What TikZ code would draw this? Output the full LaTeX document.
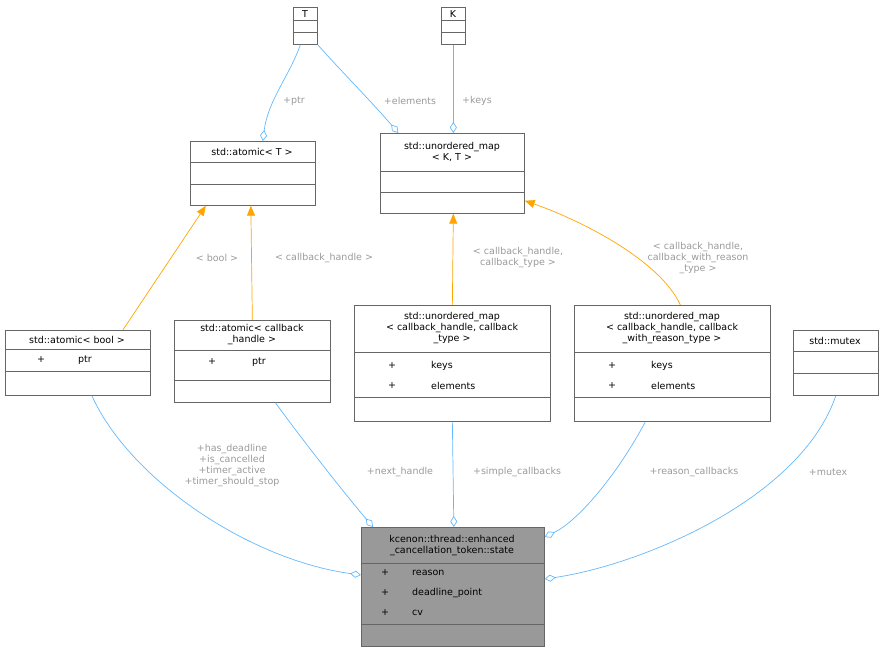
\documentclass[tikz,border=0pt]{standalone}
\usepackage{fontspec}
\setmainfont{DejaVu Sans}
\usetikzlibrary{arrows.meta}
\definecolor{edgeblue}{HTML}{63B8FF}
\definecolor{edgeorange}{HTML}{FFA500}
\definecolor{lblgray}{HTML}{9A9A9A}
\definecolor{boxline}{HTML}{666666}
\tikzset{
 box/.style={draw=boxline,fill=white,line width=0.7pt,inner sep=0pt,anchor=north west},
 ttl/.style={font=\fontsize{9.5}{11}\selectfont,align=center,inner sep=0pt},
 mem/.style={font=\fontsize{9.5}{11}\selectfont,anchor=west,inner sep=0pt},
 lbl/.style={font=\fontsize{9.5}{11}\selectfont,text=lblgray,align=center,inner sep=1pt},
 uses/.style={draw=edgeblue,line width=0.7pt,-{Diamond[open,length=11pt,width=7pt]}},
 tmpl/.style={draw=edgeorange,line width=0.7pt,-{Triangle[length=10pt,width=8pt]}},
}
\newcommand{\umlbox}[5]{% name, x1, y1, x2, y2
 \node[box,minimum width=#4pt-#2pt,minimum height=#5pt-#3pt] (#1) at (#2,#3) {};}
\begin{document}
\begin{tikzpicture}[x=1pt,y=-1pt]
 \useasboundingbox (0,0) rectangle (884,652);
 % template parameters
 \umlbox{tparam}{293}{7}{317}{44}
 \node[ttl] at (305,14) {T};
 \draw[boxline] (293,20) -- (317,20) (293,32) -- (317,32);
 \umlbox{kparam}{441}{7}{465}{44}
 \node[ttl] at (453,14) {K};
 \draw[boxline] (441,20) -- (465,20) (441,32) -- (465,32);
 % generic classes
 \umlbox{atomicT}{190}{141}{315}{205}
 \node[ttl] at (252,152) {std::atomic< T >};
 \draw[boxline] (190,162) -- (315,162) (190,184) -- (315,184);
 \umlbox{umapKT}{380}{133}{524}{213}
 \node[ttl] at (452,152) {std::unordered\_map\\< K, T >};
 \draw[boxline] (380,171) -- (524,171) (380,192) -- (524,192);
 % instantiations
 \umlbox{atomicBool}{5}{330}{150}{395}
 \node[ttl] at (77,340) {std::atomic< bool >};
 \draw[boxline] (5,349) -- (150,349) (5,371) -- (150,371);
 \node[mem] at (37,360) {+}; \node[mem] at (78,360) {ptr};
 \umlbox{atomicHandle}{174}{320}{330}{402}
 \node[ttl] at (252,335) {std::atomic< callback\\\_handle >};
 \draw[boxline] (174,350) -- (330,350) (174,380) -- (330,380);
 \node[mem] at (208,362) {+}; \node[mem] at (252,362) {ptr};
 \umlbox{umapSimple}{354}{305}{550}{421}
 \node[ttl] at (452,328) {std::unordered\_map\\< callback\_handle, callback\\\_type >};
 \draw[boxline] (354,352) -- (550,352) (354,397) -- (550,397);
 \node[mem] at (388,366) {+}; \node[mem] at (431,366) {keys};
 \node[mem] at (388,386) {+}; \node[mem] at (431,386) {elements};
 \umlbox{umapReason}{574}{305}{770}{421}
 \node[ttl] at (672,328) {std::unordered\_map\\< callback\_handle, callback\\\_with\_reason\_type >};
 \draw[boxline] (574,352) -- (770,352) (574,397) -- (770,397);
 \node[mem] at (608,366) {+}; \node[mem] at (651,366) {keys};
 \node[mem] at (608,386) {+}; \node[mem] at (651,386) {elements};
 \umlbox{mutex}{793}{330}{878}{395}
 \node[ttl] at (835,341) {std::mutex};
 \draw[boxline] (793,351) -- (878,351) (793,373) -- (878,373);
 % state
 \node[box,fill=black!40,minimum width=183pt,minimum height=119pt] (state) at (361,527) {};
 \node[ttl] at (452,546) {kcenon::thread::enhanced\\\_cancellation\_token::state};
 \draw[boxline] (361,563) -- (544,563) (361,624) -- (544,624);
 \node[mem] at (381,573) {+}; \node[mem] at (412,573) {reason};
 \node[mem] at (381,593) {+}; \node[mem] at (412,593) {deadline\_point};
 \node[mem] at (381,613) {+}; \node[mem] at (412,613) {cv};
 % usage edges
 \draw[uses] ([xshift=-5pt]tparam.south) .. controls (290,75) and (268,100) .. ([xshift=10pt]atomicT.north);
 \node[lbl] at (294,101) {+ptr};
 \draw[uses] (tparam.south east) .. controls (340,70) and (370,100) .. ([xshift=-54pt]umapKT.north);
 \node[lbl] at (410,101) {+elements};
 \draw[uses] (kparam.south) -- ([xshift=1pt]umapKT.north);
 \node[lbl] at (477,101) {+keys};
 \draw[uses] ([xshift=14pt]atomicBool.south) .. controls (130,480) and (250,560) .. ([yshift=-48pt]state.north west);
 \node[lbl] at (232,466) {+has\_deadline\\+is\_cancelled\\+timer\_active\\+timer\_should\_stop};
 \draw[uses] ([xshift=23pt]atomicHandle.south) .. controls (310,450) and (350,500) .. ([xshift=12pt]state.north west);
 \node[lbl] at (400,472) {+next\_handle};
 \draw[uses] (umapSimple.south) -- ([xshift=1pt]state.north);
 \node[lbl] at (517,472) {+simple\_callbacks};
 \draw[uses] ([xshift=-27pt]umapReason.south) .. controls (620,470) and (580,520) .. ([yshift=-10pt]state.north east);
 \node[lbl] at (694,472) {+reason\_callbacks};
 \draw[uses] (mutex.south) .. controls (800,500) and (640,565) .. ([yshift=-52pt]state.north east);
 \node[lbl] at (828,472) {+mutex};
 % template edges
 \draw[tmpl] ([xshift=45pt]atomicBool.north) -- ([xshift=-47pt]atomicT.south);
 \node[lbl] at (217,258) {< bool >};
 \draw[tmpl] (atomicHandle.north) -- ([xshift=-2pt]atomicT.south);
 \node[lbl] at (324,258) {< callback\_handle >};
 \draw[tmpl] (umapSimple.north) -- ([xshift=1pt]umapKT.south);
 \node[lbl] at (518,258) {< callback\_handle,\\callback\_type >};
 \draw[tmpl] ([xshift=8pt]umapReason.north) .. controls (660,260) and (580,220) .. ([yshift=13pt]umapKT.south east);
 \node[lbl] at (698,258) {< callback\_handle,\\callback\_with\_reason\\\_type >};
\end{tikzpicture}
\end{document}
